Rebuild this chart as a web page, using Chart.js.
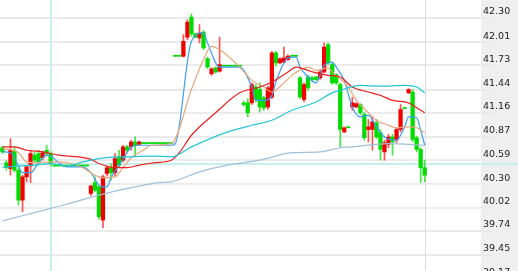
<!DOCTYPE html>
<html>
<head>
<meta charset="utf-8">
<style>
  html, body { margin: 0; padding: 0; background: #fff; overflow: hidden; }
  #c { display: block; }
</style>
<script src="https://cdn.jsdelivr.net/npm/chart.js@4.4.1/dist/chart.umd.min.js"></script>
</head>
<body>
<canvas id="c" width="518" height="271"></canvas>
<script>
/* ============================================================
   Intraday candlesticks + 5 moving averages
   Values.
   Red = up, green = down.
   ============================================================ */

// ---------- candles (index 0..105) ---------------------------
const opens = [
  40.74, 40.56, 40.49, 40.70, 40.47, 40.11, 40.39, 40.52, 40.65, 40.67,
  40.62, 40.71, 40.67, 40.52, 40.52, 40.52, 40.52, 40.52, 40.52, 40.52,
  40.52, 40.52, 40.19, 40.32, 40.27, 39.87, 40.43, 40.50, 40.44, 40.63,
  40.59, 40.75, 40.75, 40.81, 40.78, 40.79, 40.79, 40.79, 40.79, 40.79,
  40.79, 40.79, 40.79, 41.84, 41.84, 41.84, 42.07, 42.31, 42.11, 42.06,
  42.13, 41.81, 41.63, 41.70, 41.66, 41.72, 41.72, 41.72, 41.72, 41.72,
  41.28, 41.28, 41.28, 41.47, 41.44, 41.34, 41.23, 41.35, 41.88, 41.76,
  41.77, 41.80, 41.84, 41.84, 41.58, 41.32, 41.59, 41.58, 41.59, 41.58,
  41.65, 41.98, 41.74, 41.62, 41.50, 40.93, 40.98, 41.23, 41.23, 41.26,
  41.14, 40.96, 40.96, 41.04, 40.92, 40.69, 40.78, 40.87, 40.84, 40.96,
  41.21, 41.40, 41.41, 40.86, 40.72, 40.50,
];
const closes = [
  40.69, 40.50, 40.71, 40.47, 40.11, 40.39, 40.51, 40.67, 40.59, 40.57,
  40.68, 40.67, 40.55, 40.52, 40.52, 40.52, 40.52, 40.52, 40.52, 40.52,
  40.52, 40.52, 40.28, 40.23, 39.91, 40.39, 40.50, 40.44, 40.61, 40.53,
  40.75, 40.71, 40.81, 40.77, 40.81, 40.79, 40.79, 40.79, 40.79, 40.79,
  40.79, 40.79, 40.79, 41.84, 41.84, 42.02, 42.25, 42.11, 42.07, 42.12,
  41.94, 41.71, 41.69, 41.65, 41.74, 41.72, 41.72, 41.72, 41.72, 41.72,
  41.26, 41.16, 41.50, 41.32, 41.23, 41.22, 41.46, 41.88, 41.76, 41.81,
  41.82, 41.84, 41.84, 41.84, 41.35, 41.50, 41.46, 41.56, 41.56, 41.65,
  41.95, 41.76, 41.52, 41.52, 40.96, 40.98, 40.98, 41.28, 41.27, 41.16,
  40.86, 40.99, 41.05, 40.87, 40.72, 40.80, 40.87, 40.81, 40.96, 41.20,
  41.21, 41.44, 40.84, 40.72, 40.50, 40.41,
];
const highs = [
  40.76, 40.59, 40.85, 40.75, 40.50, 40.41, 40.53, 40.71, 40.69, 40.71,
  40.70, 40.77, 40.69, 40.52, 40.52, 40.52, 40.52, 40.52, 40.52, 40.52,
  40.52, 40.52, 40.29, 40.39, 40.29, 40.41, 40.52, 40.55, 40.67, 40.71,
  40.77, 40.77, 40.83, 40.87, 40.82, 40.79, 40.79, 40.79, 40.79, 40.79,
  40.79, 40.79, 40.79, 41.84, 41.84, 42.10, 42.28, 42.35, 42.12, 42.22,
  42.15, 41.83, 41.70, 41.71, 42.07, 41.72, 41.72, 41.72, 41.72, 41.72,
  41.30, 41.33, 41.52, 41.50, 41.52, 41.36, 41.48, 41.90, 41.90, 41.82,
  41.95, 41.86, 41.84, 41.84, 41.60, 41.52, 41.61, 41.60, 41.60, 41.67,
  42.00, 42.00, 41.76, 41.63, 41.52, 40.99, 40.98, 41.35, 41.28, 41.27,
  41.17, 41.08, 41.11, 41.08, 40.96, 40.83, 40.90, 40.90, 40.98, 41.26,
  41.21, 41.45, 41.44, 40.88, 40.74, 40.59,
];
const lows = [
  40.67, 40.47, 40.41, 40.45, 40.05, 39.97, 40.33, 40.32, 40.57, 40.55,
  40.59, 40.64, 40.52, 40.52, 40.52, 40.52, 40.52, 40.52, 40.52, 40.52,
  40.52, 40.52, 40.16, 40.21, 39.88, 39.78, 40.40, 40.35, 40.40, 40.50,
  40.57, 40.69, 40.71, 40.64, 40.78, 40.79, 40.79, 40.79, 40.79, 40.79,
  40.79, 40.79, 40.79, 41.84, 41.84, 41.83, 42.04, 42.08, 42.06, 42.00,
  41.92, 41.69, 41.61, 41.64, 41.65, 41.72, 41.72, 41.72, 41.72, 41.72,
  41.24, 41.11, 41.26, 41.29, 41.17, 41.19, 41.20, 41.33, 41.72, 41.75,
  41.76, 41.79, 41.84, 41.84, 41.33, 41.29, 41.43, 41.54, 41.55, 41.56,
  41.64, 41.74, 41.50, 41.50, 40.75, 40.92, 40.98, 41.19, 41.22, 41.14,
  40.83, 40.81, 40.71, 40.85, 40.59, 40.59, 40.74, 40.65, 40.80, 40.93,
  41.21, 41.39, 40.81, 40.69, 40.32, 40.33,
];

// ---------- moving averages, [index, price] --
const ma5Pts = [
  [0, 40.69], [2, 40.68], [4, 40.52], [5, 40.44], [7, 40.44], [9, 40.56], [11, 40.65],
  [12, 40.64], [14, 40.56], [16, 40.51], [20, 40.51], [22, 40.44], [24, 40.29], [25, 40.27],
  [26, 40.27], [27, 40.38], [29, 40.53], [31, 40.68], [32, 40.75], [34, 40.77], [42, 40.77],
  [43, 40.79], [47, 42.02], [50, 42.12], [51, 42.00], [54, 41.71], [59, 41.71], [62, 41.47],
  [63, 41.31], [65, 41.31], [67, 41.37], [68, 41.53], [71, 41.82], [73, 41.83], [74, 41.71],
  [76, 41.59], [78, 41.52], [80, 41.73], [82, 41.77], [83, 41.71], [85, 41.55], [87, 41.23],
  [89, 41.11], [91, 41.13], [93, 40.99], [95, 40.87], [98, 40.83], [100, 40.99], [101, 41.11],
  [103, 41.10], [104, 40.95], [105, 40.77],
];
const ma10Pts = [
  [0, 40.73], [4, 40.68], [6, 40.57], [8, 40.56], [12, 40.57], [16, 40.56], [20, 40.50],
  [23, 40.41], [25, 40.38], [28, 40.39], [30, 40.50], [32, 40.62], [35, 40.71], [37, 40.77],
  [42, 40.79], [47, 41.44], [50, 41.80], [52, 41.96], [54, 41.92], [59, 41.71], [62, 41.55],
  [65, 41.47], [67, 41.41], [70, 41.52], [72, 41.61], [76, 41.71], [78, 41.67], [81, 41.70],
  [82, 41.65], [86, 41.47], [88, 41.31], [91, 41.16], [93, 41.07], [96, 41.01], [98, 40.98],
  [101, 40.99], [103, 40.98], [105, 40.92],
];
const ma20Pts = [
  [0, 40.75], [3, 40.75], [6, 40.71], [10, 40.69], [14, 40.65], [19, 40.63], [22, 40.60],
  [24, 40.55], [28, 40.50], [31, 40.50], [34, 40.53], [38, 40.56], [42, 40.59], [44, 40.68],
  [47, 40.89], [53, 41.16], [59, 41.40], [64, 41.47], [67, 41.53], [71, 41.65], [73, 41.71],
  [76, 41.67], [78, 41.64], [81, 41.61], [84, 41.59], [87, 41.47], [91, 41.41], [94, 41.37],
  [97, 41.31], [101, 41.28], [103, 41.22], [105, 41.16],
];
const ma30Pts = [
  [0, 40.50], [3, 40.52], [8, 40.53], [12, 40.55], [16, 40.52], [20, 40.57], [24, 40.61],
  [28, 40.63], [32, 40.63], [37, 40.64], [42, 40.63], [47, 40.75], [56, 40.93], [62, 41.01],
  [67, 41.07], [72, 41.19], [78, 41.29], [82, 41.40], [84, 41.43], [89, 41.49], [94, 41.48],
  [100, 41.49], [103, 41.47], [105, 41.40],
];
const ma60Pts = [
  [0, 39.86], [8, 39.96], [16, 40.06], [24, 40.17], [32, 40.26], [39, 40.32], [42, 40.33],
  [49, 40.45], [56, 40.53], [64, 40.59], [72, 40.68], [79, 40.69], [84, 40.74], [87, 40.75],
  [96, 40.79], [105, 40.77],
];

// ---------- axis + markers -----------------------------------
const tickLabels = ['42.30', '42.01', '41.73', '41.44', '41.16', '40.87', '40.59',
                    '40.30', '40.02', '39.74', '39.45', '39.17'];
const markIndex = 12;      // cyan vertical
const markPrice = 40.54;   // cyan horizontal
const cursorIndex = 105;   // grey vertical at last bar

// ---------- palette ------------------------------------------
const UP = '#f20000';
const DOWN = '#00dc00';
const UP_WICK = '#ff5050';
const DOWN_WICK = '#40e840';
const GRID = '#ebebeb';
const PANEL = '#efefef';
const CROSS = '#c8eeee';

const idx = opens.map((_, i) => i);
const isUp = (i) => closes[i] > opens[i];

const bodies = idx.map(i => ({ x: i, y: [opens[i], closes[i]] }));
const wicks = idx.map(i => ({ x: i, y: [lows[i], highs[i]] }));
const toXY = (pts) => pts.map(p => ({ x: p[0], y: p[1] }));

const maLine = (label, pts, color) => ({
  type: 'line',
  label,
  data: toXY(pts),
  borderColor: color,
  borderWidth: 1.2,
  pointRadius: 0,
  fill: false,
  cubicInterpolationMode: 'monotone',
  order: 0,
});

const framePlugin = {
  id: 'frame',
  beforeDraw(chart) {
    const { ctx, chartArea, width, height } = chart;
    ctx.save();
    ctx.fillStyle = '#fff';
    ctx.fillRect(0, 0, width, height);
    ctx.fillStyle = PANEL;
    ctx.fillRect(chartArea.right, 0, width - chartArea.right, height);
    ctx.restore();
  },
  beforeDatasetsDraw(chart) {
    const { ctx, chartArea, width, scales } = chart;
    const cx = Math.round(scales.x.getPixelForValue(cursorIndex)) + 0.5;
    const mx = Math.round(scales.x.getPixelForValue(markIndex));
    const my = Math.round(scales.y.getPixelForValue(markPrice));
    ctx.save();
    ctx.strokeStyle = '#dcdcdc';
    ctx.lineWidth = 1;
    ctx.beginPath();
    ctx.moveTo(cx, 0);
    ctx.lineTo(cx, chartArea.bottom);
    ctx.stroke();
    ctx.strokeStyle = CROSS;
    ctx.lineWidth = 2;
    ctx.beginPath();
    ctx.moveTo(mx, 0);
    ctx.lineTo(mx, chartArea.bottom);
    ctx.moveTo(0, my);
    ctx.lineTo(width, my);
    ctx.stroke();
    ctx.restore();
  },
};

Chart.defaults.font.family = "'DejaVu Sans', sans-serif";

new Chart(document.getElementById('c'), {
  data: {
    datasets: [
      maLine('MA60', ma60Pts, '#9fc0da'),
      maLine('MA30', ma30Pts, '#22c6d6'),
      maLine('MA20', ma20Pts, '#e82020'),
      maLine('MA10', ma10Pts, '#e8a77a'),
      maLine('MA5', ma5Pts, '#3c9df5'),
      {
        type: 'bar',
        label: 'body',
        data: bodies,
        backgroundColor: idx.map(i => isUp(i) ? UP : DOWN),
        barThickness: 3.6,
        minBarLength: 1,
        grouped: false,
        order: 1,
      },
      {
        type: 'bar',
        label: 'wick',
        data: wicks,
        backgroundColor: idx.map(i => isUp(i) ? UP_WICK : DOWN_WICK),
        barThickness: 1,
        minBarLength: 1,
        grouped: false,
        order: 2,
      },
    ],
  },
  options: {
    responsive: false,
    animation: false,
    layout: { padding: 0 },
    plugins: { legend: { display: false }, tooltip: { enabled: false } },
    scales: {
      x: {
        type: 'linear',
        display: false,
        offset: false,
        min: -0.6,
        max: 119,
      },
      y: {
        position: 'right',
        min: 39.2577,
        max: 42.5165,
        afterBuildTicks: (s) => { s.ticks = tickLabels.map(t => ({ value: parseFloat(t) })); },
        afterFit: (s) => { s.width = 37; s.paddingTop = 0; s.paddingBottom = 0; },
        border: { display: false },
        grid: { color: GRID, lineWidth: 2, tickLength: 11 },
        ticks: {
          autoSkip: false,
          padding: -9,
          labelOffset: -6,
          color: '#222',
          font: { size: 9.5 },
          callback: (v, i) => tickLabels[i],
        },
      },
    },
  },
  plugins: [framePlugin],
});
</script>
</body>
</html>
